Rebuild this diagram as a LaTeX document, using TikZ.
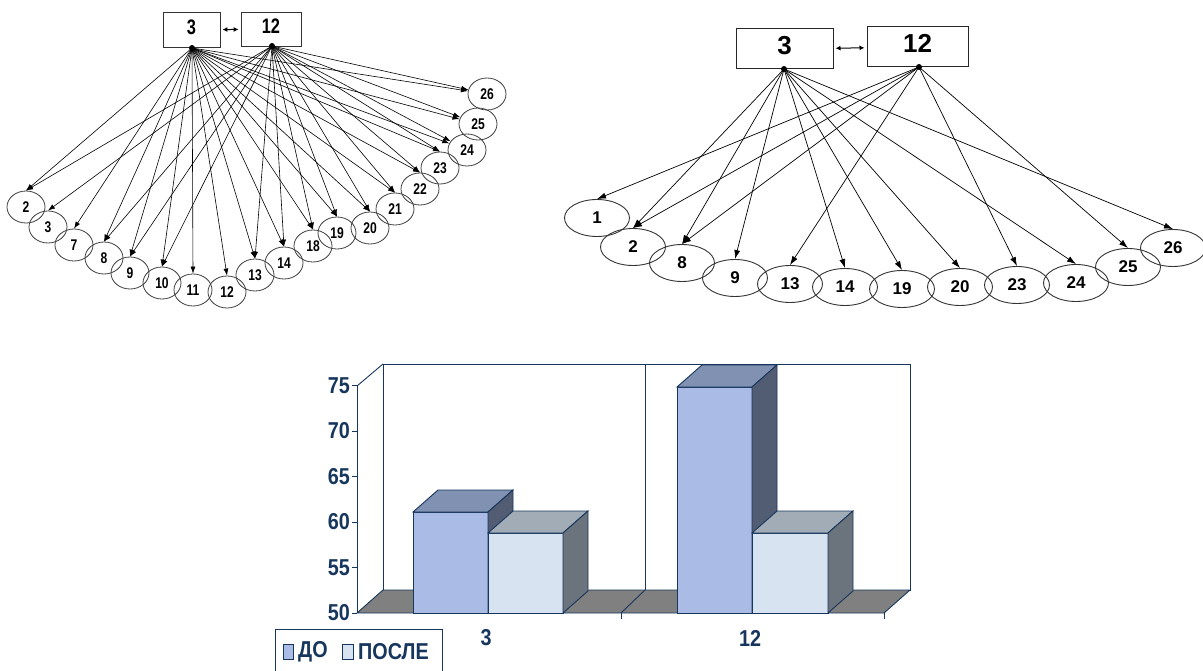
\documentclass[tikz,border=0pt]{standalone}
\usepackage{fontspec}
\setmainfont{Liberation Sans}
\newfontfamily\narf[FakeStretch=0.78]{Liberation Sans}
\newfontfamily\chf[FakeStretch=0.86]{Liberation Sans}
\usetikzlibrary{shapes.geometric,arrows.meta}
\definecolor{navy}{HTML}{17365D}
\definecolor{dofront}{HTML}{AABBE6}
\definecolor{dotop}{HTML}{8091B2}
\definecolor{doside}{HTML}{525C73}
\definecolor{pofront}{HTML}{D7E3F0}
\definecolor{potop}{HTML}{A1ACB6}
\definecolor{poside}{HTML}{6B737D}
\definecolor{floorgray}{HTML}{808080}
\begin{document}
\begin{tikzpicture}[x=1pt,y=-1pt,
  lbox/.style={draw=black!80,line width=0.9pt,inner sep=0,text depth=5pt,font=\narf\bfseries\fontsize{21}{21}\selectfont},
  lell/.style={ellipse,draw=black!75,line width=0.8pt,minimum width=38pt,minimum height=32pt,inner sep=0,font=\narf\bfseries\fontsize{15.5}{15.5}\selectfont},
  larr/.style={-{Latex[length=7pt,width=5pt]},line width=0.6pt},
  rbox/.style={draw=black!85,line width=1pt,inner sep=0,text depth=7pt,font=\bfseries\fontsize{26}{26}\selectfont},
  rell/.style={ellipse,draw=black!80,line width=0.9pt,minimum width=65pt,minimum height=37pt,inner sep=0,font=\bfseries\fontsize{17}{17}\selectfont},
  rarr/.style={-{Latex[length=9pt,width=6pt]},line width=0.7pt},
  hub/.style={circle,fill=black,inner sep=0,minimum size=6pt},
  dbl/.style={{Latex[length=5pt,width=5pt]}-{Latex[length=5pt,width=5pt]},line width=1pt,shorten >=2pt,shorten <=2pt},
  ylab/.style={anchor=east,text=navy,font=\chf\bfseries\fontsize{23}{23}\selectfont,inner sep=0},
  xlab/.style={text=navy,font=\chf\bfseries\fontsize{23}{23}\selectfont,inner sep=0},
  nv/.style={draw=navy,line width=0.9pt}
]
\useasboundingbox (0,0) rectangle (1203,671);

% ---------------- left graph ----------------
\node[lbox,minimum width=57pt,minimum height=35pt] (LB3) at (191.5,30) {3};
\node[lbox,minimum width=60pt,minimum height=34pt] (LB12) at (271,29) {12};
\draw[dbl] (LB3) -- (LB12);
\node[hub] (L3) at (192,48) {};
\node[hub] (L12) at (272,46) {};
\foreach \n/\x/\y in {2/26/207,3/48/227,7/74/245,8/104/258,9/130/273,10/162/283,11/193/290,12/227/292,13/255/275,14/284/263,18/313/246,19/337/233,20/370/228,21/395/209,22/420/189,23/440/168,24/467/150,25/478/124,26/487/94}
  \node[lell] (le\n) at (\x,\y) {\n};
\foreach \n in {2,7,8,9,10,11,12,13,14,18,19,20,21,22,23}
  \draw[larr] (L3.center) -- (le\n.north);
\foreach \n in {24,25,26}
  \draw[larr] (L3.center) -- (le\n);
\foreach \n in {2,3,8,9,10,13,14,18,19,20,21,22,23}
  \draw[larr] (L12.center) -- (le\n.north);
\foreach \n in {24,25,26}
  \draw[larr] (L12.center) -- (le\n);

% ---------------- right graph ----------------
\node[rbox,minimum width=97pt,minimum height=40pt] (RB3) at (784.5,49) {3};
\node[rbox,minimum width=101pt,minimum height=40pt] (RB12) at (917.5,47) {12};
\draw[dbl] (RB3) -- (RB12);
\node[hub] (R3) at (784,69) {};
\node[hub] (R12) at (919,67) {};
\foreach \n/\x/\y in {1/597/218,2/633/247,8/682/263,9/735/278,13/790/284,14/845/287,19/902/289,20/960/287,23/1017/285,24/1076/283,25/1128/267,26/1173/248}
  \node[rell] (re\n) at (\x,\y) {\n};
\foreach \n in {2,8,9,14,19,20,24,26}
  \draw[rarr] (R3.center) -- (re\n.north);
\foreach \n in {1,2,8,13,23,25}
  \draw[rarr] (R12.center) -- (re\n.north);

% ---------------- chart ----------------
\draw[nv,fill=white] (383,364) rectangle (910,590);
\draw[nv] (357,386) -- (383,364);
\draw[nv] (645,364) -- (645,590);
\filldraw[nv,fill=floorgray] (357,613) -- (884,613) -- (910,590) -- (383,590) -- cycle;
\draw[nv] (621,613) -- (645,590);
\draw[nv] (357,613) -- (357,386);
\foreach \k/\v in {0/50,1/55,2/60,3/65,4/70,5/75}{
  \draw[nv] (352,{613-45.5*\k}) -- (357,{613-45.5*\k});
  \node[ylab] (yl\v) at (350,{613-45.5*\k}) {\v};
}
\draw[nv] (621,613) -- (621,619);
\draw[nv] (884,613) -- (884,619);
\foreach \xl/\xr/\t/\cf/\ct/\cs in {413/488/512/dofront/dotop/doside,488/563/533/pofront/potop/poside,677/752/387/dofront/dotop/doside,752/828/533/pofront/potop/poside}{
  \filldraw[nv,fill=\cf] (\xl,613) rectangle (\xr,\t);
  \filldraw[nv,fill=\ct] (\xl,\t) -- ({\xl+25},{\t-22}) -- ({\xr+25},{\t-22}) -- (\xr,\t) -- cycle;
  \filldraw[nv,fill=\cs] (\xr,\t) -- ({\xr+25},{\t-22}) -- ({\xr+25},591) -- (\xr,613) -- cycle;
}
\node[xlab] (xl3) at (486,638) {3};
\node[xlab] (xl12) at (750,638) {12};
% legend
\draw[nv] (275,672) -- (275,629) -- (442,629) -- (442,672);
\filldraw[nv,fill=dofront] (283,644) rectangle (293,659);
\node[ylab,anchor=west] (lgdo) at (298,652) {ДО};
\filldraw[nv,fill=pofront] (342,644) rectangle (353,659);
\node[ylab,anchor=west] (lgpo) at (358,652) {ПОСЛЕ};
\end{tikzpicture}
\end{document}
